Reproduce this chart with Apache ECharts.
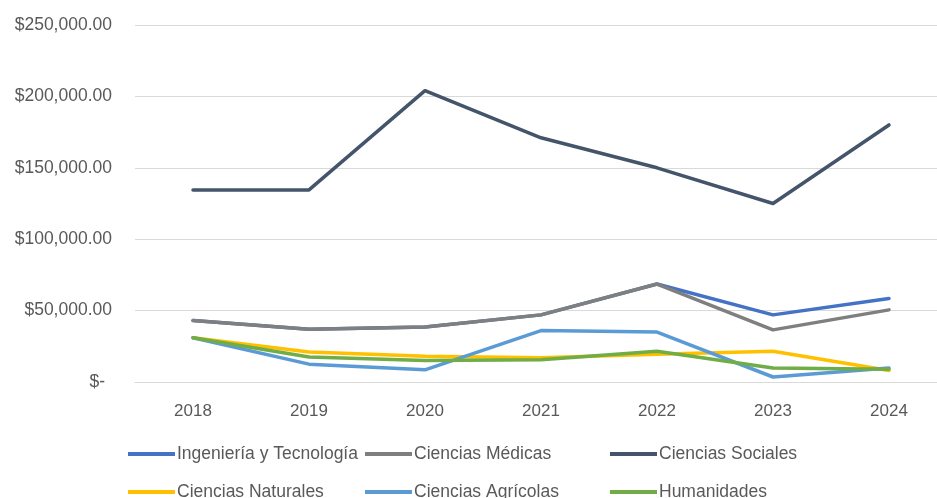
<!DOCTYPE html>
<html>
<head>
<meta charset="utf-8">
<script src="https://cdn.jsdelivr.net/npm/echarts@6/dist/echarts.min.js"></script>
<style>html,body{margin:0;padding:0;background:#fff;overflow:hidden;width:937px;height:498px}#c{width:952px;height:498px}</style>
</head>
<body>
<div id="c"></div>
<script>
const years = ['2018','2019','2020','2021','2022','2023','2024'];
const ingenieria = [43000, 37000, 38500, 47000, 68600, 47000, 58500];
const medicas = [43000, 37000, 38500, 47000, 68600, 36500, 50500];
const sociales = [134500, 134500, 204000, 171000, 150000, 125000, 180000];
const naturales = [31000, 21000, 18000, 17000, 19500, 21500, 8000];
const agricolas = [31000, 12500, 8500, 36000, 35000, 3500, 9800];
const humanidades = [31000, 17500, 15000, 15500, 21500, 9800, 9000];
const yTicks = [0, 50000, 100000, 150000, 200000, 250000];

const names = ['Ingeniería y Tecnología','Ciencias Médicas','Ciencias Sociales','Ciencias Naturales','Ciencias Agrícolas','Humanidades'];
const colors = ['#4472C4','#7F7F7F','#44546A','#FFC000','#5B9BD5','#70AD47'];
const datas = [ingenieria, medicas, sociales, naturales, agricolas, humanidades];
const legendPos = [[128,445],[365,445],[610,445],[128,483],[365,483],[610,483]];

const chart = echarts.init(document.getElementById('c'));
chart.setOption({
  animation: false,
  backgroundColor: '#ffffff',
  grid: {left: 135, width: 812, top: 25, height: 357, containLabel: false},
  legend: names.map((n, i) => ({
    data: [n],
    left: legendPos[i][0],
    top: legendPos[i][1],
    icon: 'rect',
    itemWidth: 47,
    itemHeight: 4,
    padding: 0,
    textStyle: {fontFamily: 'Liberation Sans', fontSize: 17.5, color: '#595959', padding: [0,0,0,-3]}
  })),
  xAxis: {
    type: 'category',
    data: years,
    boundaryGap: true,
    axisLine: {show: true, lineStyle: {color: '#D9D9D9', width: 1}},
    axisTick: {show: false},
    axisLabel: {fontFamily: 'Liberation Sans', fontSize: 17, color: '#595959', margin: 21}
  },
  yAxis: {
    type: 'value',
    min: yTicks[0],
    max: yTicks[yTicks.length - 1],
    interval: yTicks[1] - yTicks[0],
    axisLine: {show: false},
    axisTick: {show: false},
    splitLine: {lineStyle: {color: '#D9D9D9', width: 1}},
    axisLabel: {
      margin: 23,
      fontFamily: 'Liberation Sans', fontSize: 17.5, color: '#595959',
      formatter: v => v === 0 ? '{z|$-}' : '$' + v.toLocaleString('en-US', {minimumFractionDigits: 2, maximumFractionDigits: 2}),
      rich: {z: {fontFamily: 'Liberation Sans', fontSize: 17.5, color: '#595959', padding: [0, 7, 0, 0]}}
    }
  },
  series: names.map((n, i) => ({
    name: n,
    type: 'line',
    data: datas[i],
    showSymbol: false,
    symbol: 'none',
    color: colors[i],
    lineStyle: {width: 3.5, color: colors[i], cap: 'round', join: 'round'}
  }))
});
</script>
</body>
</html>
